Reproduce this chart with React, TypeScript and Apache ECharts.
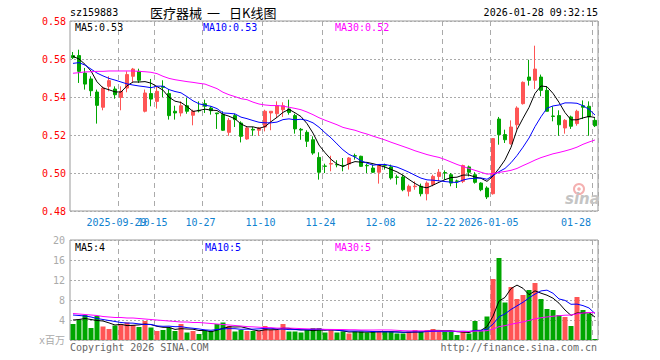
import React, { useEffect, useRef } from 'react';
import * as echarts from 'echarts';

const dates = [
  '2025-09-17','2025-09-18','2025-09-19','2025-09-22','2025-09-23','2025-09-24','2025-09-25','2025-09-26','2025-09-29','2025-09-30',
  '2025-10-09','2025-10-10','2025-10-13','2025-10-14','2025-10-15','2025-10-16','2025-10-17','2025-10-20','2025-10-21','2025-10-22',
  '2025-10-23','2025-10-24','2025-10-27','2025-10-28','2025-10-29','2025-10-30','2025-10-31','2025-11-03','2025-11-04','2025-11-05',
  '2025-11-06','2025-11-07','2025-11-10','2025-11-11','2025-11-12','2025-11-13','2025-11-14','2025-11-17','2025-11-18','2025-11-19',
  '2025-11-20','2025-11-21','2025-11-24','2025-11-25','2025-11-26','2025-11-27','2025-11-28','2025-12-01','2025-12-02','2025-12-03',
  '2025-12-04','2025-12-05','2025-12-08','2025-12-09','2025-12-10','2025-12-11','2025-12-12','2025-12-15','2025-12-16','2025-12-17',
  '2025-12-18','2025-12-19','2025-12-22','2025-12-23','2025-12-24','2025-12-25','2025-12-26','2025-12-29','2025-12-30','2025-12-31',
  '2026-01-05','2026-01-06','2026-01-07','2026-01-08','2026-01-09','2026-01-12','2026-01-13','2026-01-14','2026-01-15','2026-01-16',
  '2026-01-19','2026-01-20','2026-01-21','2026-01-22','2026-01-23','2026-01-26','2026-01-27','2026-01-28',
];

const opens = [
  0.5618,0.5618,0.5526,0.5495,0.5426,0.5346,0.5456,0.5442,0.5398,0.5447,
  0.5509,0.5535,0.5325,0.5418,0.5377,0.5456,0.5418,0.5325,0.5316,0.5354,
  0.5304,0.5330,0.5365,0.5342,0.5316,0.5307,0.5214,0.5302,0.5263,0.5179,
  0.5230,0.5225,0.5242,0.5316,0.5312,0.5333,0.5337,0.5302,0.5230,0.5214,
  0.5175,0.5082,0.5037,0.5047,0.5045,0.5040,0.5047,0.5091,0.5088,0.5040,
  0.5026,0.5004,0.5040,0.5032,0.4979,0.4979,0.4904,0.4928,0.4930,0.4891,
  0.4939,0.4982,0.5002,0.4991,0.4958,0.4956,0.5032,0.4991,0.4947,0.4921,
  0.4891,0.5284,0.5202,0.5154,0.5254,0.5365,0.5505,0.5488,0.5505,0.5435,
  0.5300,0.5302,0.5237,0.5295,0.5260,0.5354,0.5351,0.5277,
];
const closes = [
  0.5607,0.5535,0.5468,0.5433,0.5356,0.5447,0.5486,0.5412,0.5430,0.5518,
  0.5547,0.5488,0.5421,0.5389,0.5430,0.5451,0.5302,0.5316,0.5354,0.5325,
  0.5325,0.5327,0.5351,0.5328,0.5312,0.5225,0.5277,0.5281,0.5193,0.5237,
  0.5226,0.5237,0.5325,0.5325,0.5354,0.5354,0.5319,0.5232,0.5226,0.5167,
  0.5105,0.5004,0.5035,0.5050,0.5043,0.5038,0.5079,0.5089,0.5035,0.5038,
  0.5004,0.5039,0.5038,0.4974,0.4977,0.4912,0.4930,0.4931,0.4891,0.4947,
  0.4982,0.5004,0.5000,0.4947,0.4956,0.5039,0.5004,0.4951,0.4912,0.4874,
  0.5181,0.5202,0.5175,0.5242,0.5342,0.5477,0.5488,0.5547,0.5435,0.5325,
  0.5298,0.5254,0.5277,0.5246,0.5325,0.5346,0.5295,0.5249,
];
const lows = [
  0.5600,0.5474,0.5439,0.5404,0.5260,0.5330,0.5430,0.5391,0.5330,0.5425,
  0.5477,0.5474,0.5319,0.5351,0.5339,0.5400,0.5281,0.5281,0.5298,0.5312,
  0.5251,0.5319,0.5316,0.5307,0.5232,0.5222,0.5196,0.5242,0.5161,0.5175,
  0.5196,0.5196,0.5219,0.5225,0.5289,0.5295,0.5307,0.5207,0.5175,0.5137,
  0.5096,0.4965,0.5000,0.5009,0.5030,0.5009,0.5018,0.5070,0.5032,0.5000,
  0.5000,0.4944,0.5018,0.4965,0.4939,0.4904,0.4877,0.4912,0.4877,0.4856,
  0.4930,0.4956,0.4965,0.4930,0.4921,0.4947,0.4982,0.4944,0.4904,0.4863,
  0.4886,0.5149,0.5158,0.5149,0.5228,0.5360,0.5460,0.5442,0.5404,0.5325,
  0.5272,0.5196,0.5207,0.5232,0.5249,0.5284,0.5196,0.5242,
];
const highs = [
  0.5637,0.5649,0.5553,0.5509,0.5439,0.5456,0.5509,0.5456,0.5456,0.5535,
  0.5553,0.5549,0.5439,0.5495,0.5456,0.5488,0.5442,0.5354,0.5377,0.5395,
  0.5333,0.5377,0.5386,0.5351,0.5316,0.5325,0.5289,0.5312,0.5272,0.5246,
  0.5242,0.5242,0.5333,0.5325,0.5377,0.5372,0.5386,0.5312,0.5237,0.5225,
  0.5193,0.5109,0.5049,0.5091,0.5067,0.5079,0.5084,0.5102,0.5091,0.5049,
  0.5044,0.5044,0.5049,0.5044,0.4991,0.4991,0.4939,0.4956,0.4944,0.4956,
  0.4991,0.5021,0.5014,0.5000,0.4965,0.5044,0.5039,0.5004,0.4951,0.4930,
  0.5184,0.5295,0.5228,0.5277,0.5351,0.5482,0.5596,0.5670,0.5518,0.5456,
  0.5351,0.5330,0.5284,0.5302,0.5333,0.5382,0.5377,0.5289,
];
// volume, millions
const volumes = [
  3.2,4.1,5.0,2.4,4.8,2.7,2.2,2.9,3.1,3.5,
  3.0,2.6,3.8,2.5,1.8,2.0,2.5,1.8,3.2,1.5,
  1.8,1.2,1.9,1.8,3.2,3.5,2.8,1.7,2.0,1.8,
  1.8,1.8,2.8,2.0,2.0,3.2,1.7,1.7,1.5,2.0,
  2.4,2.4,1.5,2.0,1.5,1.7,1.3,1.7,1.7,1.5,
  1.7,1.7,1.7,1.7,1.3,1.3,1.7,2.0,1.7,2.0,
  2.2,1.7,1.7,1.7,1.0,1.8,1.3,3.8,1.8,4.7,
  12.2,16.4,7.5,10.6,8.2,9.0,10.0,11.4,8.2,6.2,
  6.0,5.0,4.6,2.8,8.6,6.0,5.3,0.2,
];

// moving-average values before a full window exists
const priceMa5Lead = [0.5614, 0.5600, 0.5572, 0.5537];
const priceMa10Lead = [0.5577, 0.5581, 0.5568, 0.5547, 0.5526, 0.5511, 0.5498, 0.5489, 0.5479];
const priceMa30Lead = [
  0.5525,0.5528,0.5532,0.5533,0.5535,0.5535,0.5537,0.5537,0.5537,0.5537,
  0.5537,0.5535,0.5533,0.5530,0.5523,0.5509,0.5498,0.5491,0.5486,0.5481,
  0.5477,0.5472,0.5468,0.5456,0.5444,0.5425,0.5412,0.5402,0.5391,
];
const volMa5Lead = [4.0, 4.1, 4.3, 4.1];
const volMa10Lead = [5.0, 4.9, 4.8, 4.6, 4.3, 4.1, 3.9, 3.7, 3.5];
const volMa30Lead = [
  5.3,5.2,5.1,5.0,4.9,4.7,4.6,4.5,4.5,4.4,
  4.4,4.3,4.2,4.1,4.0,3.9,3.8,3.7,3.6,3.6,
  3.5,3.5,3.4,3.3,3.2,3.1,3.0,2.9,2.8,
];

const dateTickIdx = [8, 14, 22, 32, 42, 52, 62, 70, 87];
const dateTickLabels = ['2025-09-29', '10-15', '10-27', '11-10', '11-24', '12-08', '12-22', '2026-01-05', '01-28'];
const priceLegendValues = ['0.53', '0.53', '0.52'];
const volLegendValues = ['4', '5', '5'];

const UP = '#ff5555';
const DOWN = '#00a600';
const MA_COLORS = ['#000000', '#0000ff', '#ff00ff'];
const MONO = "'DejaVu Sans Mono', 'Noto Sans CJK SC', monospace";
const AXIS_BLUE = '#1082d0';

function movingAverage(values: number[], n: number, lead: number[]): number[] {
  return values.map((_, i) => {
    if (i < n - 1) return lead[i];
    let s = 0;
    for (let k = i - n + 1; k <= i; k++) s += values[k];
    return +(s / n).toFixed(4);
  });
}

export default function App() {
  const ref = useRef<HTMLDivElement>(null);

  useEffect(() => {
    if (!ref.current) return;
    const chart = echarts.init(ref.current, null, { renderer: 'svg' });

    const pMa = [
      movingAverage(closes, 5, priceMa5Lead),
      movingAverage(closes, 10, priceMa10Lead),
      movingAverage(closes, 30, priceMa30Lead),
    ];
    const vMa = [
      movingAverage(volumes, 5, volMa5Lead),
      movingAverage(volumes, 10, volMa10Lead),
      movingAverage(volumes, 30, volMa30Lead),
    ];

    const isTick = (i: number) => dateTickIdx.indexOf(i) >= 0;
    const lastTick = dateTickIdx.length - 1;
    const splitLine = {
      show: true,
      interval: (i: number) => isTick(i),
      lineStyle: { color: '#aaaaaa', type: [5, 4], width: 1 },
    };
    const rich = {
      n: { padding: [0, 9, 0, 0], color: AXIS_BLUE, fontFamily: MONO, fontSize: 10 },
      l: { padding: [0, 38, 0, 0], color: AXIS_BLUE, fontFamily: MONO, fontSize: 10 },
    };
    // the first tick label overlaps the next one, so it lives on its own axis
    const labelAxis = (ticks: number[]) => ({
      interval: (i: number) => ticks.indexOf(i) >= 0,
      hideOverlap: false,
      margin: 6,
      formatter: (_v: string, i: number) => {
        const k = dateTickIdx.indexOf(i);
        if (k < 0 || ticks.indexOf(i) < 0) return '';
        return k === lastTick ? `{l|${dateTickLabels[k]}}` : `{n|${dateTickLabels[k]}}`;
      },
      rich,
    });

    const maNames = ['MA5', 'MA10', 'MA30'];
    const legendX = [75, 203, 335];

    const option: any = {
      animation: false,
      backgroundColor: '#ffffff',
      grid: [
        { left: 70, top: 21, width: 528, height: 190, show: true, borderColor: '#999999', borderWidth: 1 },
        { left: 70, top: 240, width: 528, height: 100, show: true, borderColor: '#999999', borderWidth: 1 },
      ],
      xAxis: [
        {
          type: 'category', gridIndex: 0, data: dates, boundaryGap: true,
          axisLine: { show: false }, axisTick: { show: false },
          axisLabel: labelAxis(dateTickIdx.slice(1)),
          splitLine,
        },
        {
          type: 'category', gridIndex: 1, data: dates, boundaryGap: true,
          axisLine: { show: false }, axisTick: { show: false }, axisLabel: { show: false },
          splitLine,
        },
        {
          type: 'category', gridIndex: 0, data: dates, boundaryGap: true, position: 'bottom',
          axisLine: { show: false }, axisTick: { show: false }, splitLine: { show: false },
          axisLabel: labelAxis(dateTickIdx.slice(0, 1)),
        },
      ],
      yAxis: [
        {
          type: 'value', gridIndex: 0, min: 0.48, max: 0.58, interval: 0.02,
          axisLine: { show: false }, axisTick: { show: false },
          axisLabel: { color: '#ff0000', fontFamily: MONO, fontSize: 10, margin: 4, formatter: (v: number) => v.toFixed(2) },
          splitLine: { lineStyle: { color: '#aaaaaa', type: [2, 2] } },
        },
        {
          type: 'value', gridIndex: 1, min: 0, max: 20, interval: 4,
          axisLine: { show: false }, axisTick: { show: false },
          axisLabel: { color: '#aaaaaa', fontFamily: MONO, fontSize: 10, margin: 5, formatter: (v: number) => (v === 0 ? 'x百万' : String(v)) },
          splitLine: { lineStyle: { color: '#aaaaaa', type: [2, 2] } },
        },
      ],
      series: [
        {
          type: 'candlestick', xAxisIndex: 0, yAxisIndex: 0,
          data: dates.map((_, i) => [opens[i], closes[i], lows[i], highs[i]]),
          barWidth: 4,
          itemStyle: { color: UP, color0: DOWN, borderColor: UP, borderColor0: DOWN, borderWidth: 1 },
        },
        ...pMa.map((d, k) => ({
          type: 'line', xAxisIndex: 0, yAxisIndex: 0, data: d, symbol: 'none', showSymbol: false,
          lineStyle: { color: MA_COLORS[k], width: 1 }, itemStyle: { color: MA_COLORS[k] }, z: 3,
        })),
        {
          type: 'bar', xAxisIndex: 1, yAxisIndex: 1, barWidth: 5,
          data: volumes.map((v, i) => ({ value: v, itemStyle: { color: closes[i] >= opens[i] ? UP : DOWN } })),
        },
        ...vMa.map((d, k) => ({
          type: 'line', xAxisIndex: 1, yAxisIndex: 1, data: d, symbol: 'none', showSymbol: false,
          lineStyle: { color: MA_COLORS[k], width: 1 }, itemStyle: { color: MA_COLORS[k] }, z: 3,
        })),
      ],
      graphic: [
        { type: 'text', x: 70, y: 12, style: { text: 'sz159883', fill: '#000', font: `10px ${MONO}`, verticalAlign: 'middle' } },
        { type: 'text', x: 150, y: 12, style: { text: '医疗器械', fill: '#000', font: "13px 'Noto Sans CJK SC'", verticalAlign: 'middle' } },
        { type: 'text', x: 207, y: 12, style: { text: '一', fill: '#000', font: "13px 'Noto Sans CJK SC'", verticalAlign: 'middle' } },
        { type: 'text', x: 229, y: 12, style: { text: '日K线图', fill: '#000', font: "13px 'Noto Sans CJK SC'", verticalAlign: 'middle' } },
        { type: 'text', x: 598, y: 12, style: { text: '2026-01-28 09:32:15', fill: '#000', font: `10px ${MONO}`, align: 'right', verticalAlign: 'middle' } },
        ...maNames.map((n, k) => ({
          type: 'text', x: legendX[k], y: 27, z: 10,
          style: { text: `${n}:${priceLegendValues[k]}`, fill: MA_COLORS[k], font: `10px ${MONO}`, verticalAlign: 'middle' },
        })),
        ...maNames.map((n, k) => ({
          type: 'text', x: legendX[k] + (k === 1 ? 2 : 0), y: 247, z: 10,
          style: { text: `${n}:${volLegendValues[k]}`, fill: MA_COLORS[k], font: `10px ${MONO}`, verticalAlign: 'middle' },
        })),
        { type: 'text', x: 70, y: 347, style: { text: 'Copyright 2026 SINA.COM', fill: '#666', font: `10px ${MONO}`, verticalAlign: 'middle' } },
        { type: 'text', x: 597, y: 347, style: { text: 'http://finance.sina.com.cn', fill: '#666', font: `10px ${MONO}`, align: 'right', verticalAlign: 'middle' } },
        // sina watermark
        { type: 'circle', z: 1, shape: { cx: 579, cy: 189, r: 5 }, style: { fill: 'none', stroke: '#f4b0b0', lineWidth: 2 } },
        { type: 'circle', z: 1, shape: { cx: 579, cy: 189, r: 1.8 }, style: { fill: '#f4b0b0' } },
        { type: 'text', z: 1, x: 565, y: 199, style: { text: 'sina', fill: '#c4c4c4', font: "italic bold 15px 'DejaVu Sans'", verticalAlign: 'middle' } },
      ],
    };

    chart.setOption(option);
    return () => chart.dispose();
  }, []);

  return (
    <div
      ref={ref}
      style={{ position: 'absolute', left: 0, top: 0, width: 660, height: 360, background: '#fff' }}
    />
  );
}
